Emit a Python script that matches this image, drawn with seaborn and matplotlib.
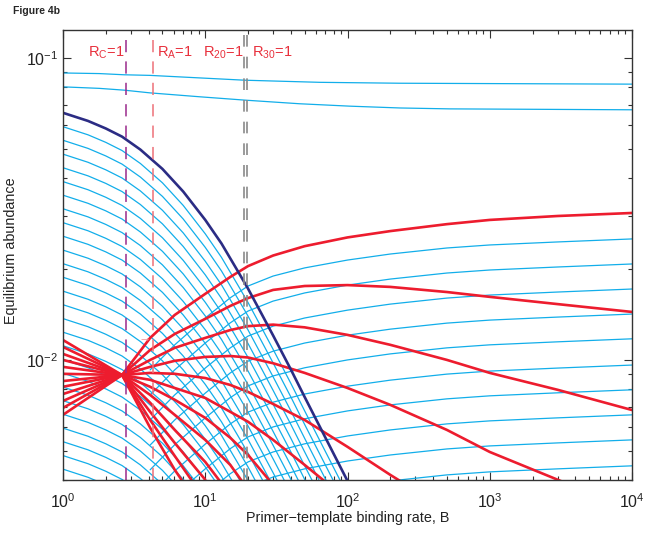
import numpy as np
import pandas as pd
import matplotlib
matplotlib.use("Agg")
import matplotlib.pyplot as plt
import seaborn as sns
from matplotlib.ticker import LogLocator, NullFormatter, LogFormatterSciNotation

# ---------------- data (abundances stored as log10 exponents) -------------
navy_B = [1, 1.5, 2, 2.6, 3.5, 5, 7, 10, 13, 17, 20, 25, 30, 40, 50, 70, 100, 130]
navy_log = [-1.181, -1.208, -1.233, -1.260, -1.303, -1.367, -1.442, -1.536, -1.614, -1.707,
            -1.764, -1.849, -1.919, -2.032, -2.123, -2.258, -2.401, -2.507]

# descending cyan family: level at B=1 (log10); shape follows the navy profile
desc_left_log = [-1.227, -1.272, -1.318, -1.363, -1.409, -1.454, -1.499, -1.545, -1.590, -1.636,
                 -1.681, -1.726, -1.772, -1.817, -1.863, -1.908, -1.953, -1.999, -2.044, -2.090,
                 -2.135, -2.180, -2.226, -2.271, -2.317, -2.362]

# two nearly flat cyan curves at the top
top1_B = [1, 1.8, 2.7, 4.1, 19, 64, 234, 10000]
top1_log = [-1.049, -1.051, -1.055, -1.057, -1.073, -1.080, -1.083, -1.086]
top2_B = [1, 1.8, 2.7, 4.1, 9.2, 19, 46, 104, 234, 526, 10000]
top2_log = [-1.095, -1.100, -1.106, -1.115, -1.128, -1.139, -1.151, -1.159, -1.165, -1.168, -1.171]

# ascending cyan family: level at B=1e4 (log10) and shared shape
asc_B = [4.1, 6.1, 10, 15, 20, 30, 50, 100, 200, 500, 1000, 3000, 10000]
asc_rel = [-0.434, -0.351, -0.262, -0.195, -0.156, -0.123, -0.096, -0.070, -0.050, -0.030, -0.020, -0.010, 0.0]
asc_right_log = [-1.599, -1.682, -1.765, -1.848, -1.930, -2.017, -2.099, -2.182, -2.265, -2.351]

# red curves (all meet near B = 2.6)
red_B = [1, 2.6, 4.1, 6.1, 10, 15, 20, 30, 50, 100, 200, 500, 1000, 3000, 10000]
red_log = [
    [-2.182, -2.050, -1.927, -1.851, -1.781, -1.725, -1.689, -1.654, -1.623, -1.594, -1.573, -1.550, -1.536, -1.523, -1.513],
    [-2.159, -2.050, -1.967, -1.914, -1.864, -1.821, -1.795, -1.768, -1.755, -1.752, -1.758, -1.775, -1.791, -1.815, -1.841],
    [-2.136, -2.050, -2.000, -1.960, -1.927, -1.901, -1.888, -1.883, -1.892, -1.917, -1.950, -2.000, -2.043, -2.099, -2.166],
    [-2.113, -2.050, -2.023, -2.003, -1.990, -1.987, -1.992, -2.011, -2.043, -2.093, -2.149, -2.232, -2.305, -2.397, -2.497],
    [-2.089, -2.050, -2.043, -2.046, -2.060, -2.083, -2.106, -2.146, -2.199, -2.288, -2.381, -2.497],
    [-2.070, -2.050, -2.066, -2.093, -2.126, -2.172, -2.205, -2.265, -2.348, -2.464],
    [-2.046, -2.050, -2.089, -2.132, -2.192, -2.258, -2.315, -2.414],
    [-2.023, -2.050, -2.116, -2.182, -2.265, -2.348, -2.430],
    [-2.000, -2.050, -2.142, -2.232, -2.338, -2.447],
    [-1.980, -2.050, -2.172, -2.275, -2.397],
    [-1.957, -2.050, -2.199, -2.318, -2.464],
    [-1.934, -2.050, -2.225, -2.364, -2.513],
]

threshold_B = {"C": 2.76, "A": 4.27, "20": 18.7, "30": 19.6}
labels = ["R$_\\mathregular{C}$=1", "R$_\\mathregular{A}$=1", "R$_\\mathregular{20}$=1", "R$_\\mathregular{30}$=1"]

# ---------------- build tables ----------------
def table(B, logy, name):
    return pd.DataFrame({"B": np.asarray(B, float)[:len(logy)],
                         "y": 10.0 ** np.asarray(logy, float), "curve": name})

navy_log = np.asarray(navy_log)
cyan_parts = []
for k, lv in enumerate(desc_left_log):
    cyan_parts.append(table(navy_B, lv + (navy_log - navy_log[0]), f"d{k}"))
for k, lv in enumerate(asc_right_log):
    cyan_parts.append(table(asc_B, lv + np.asarray(asc_rel), f"a{k}"))
cyan_parts.append(table(top1_B, top1_log, "t1"))
cyan_parts.append(table(top2_B, top2_log, "t2"))
cyan_df = pd.concat(cyan_parts, ignore_index=True)
red_df = pd.concat([table(red_B, r, f"r{i}") for i, r in enumerate(red_log)], ignore_index=True)
navy_df = table(navy_B, navy_log, "navy")

# ---------------- figure ----------------
sns.set_style("ticks")
plt.rcParams["font.family"] = ["Liberation Sans", "DejaVu Sans"]
plt.rcParams["mathtext.fontset"] = "custom"
plt.rcParams["mathtext.rm"] = "Liberation Sans"
plt.rcParams["mathtext.it"] = "Liberation Sans:italic"

fig = plt.figure(figsize=(6.48, 5.36), dpi=100)
ax = fig.add_axes([63 / 648, 56 / 536, 569 / 648, 450 / 536])
ax.set_xscale("log")
ax.set_yscale("log")

CYAN, RED, NAVY = "#12AEEA", "#ED1C2E", "#2B2C84"
sns.lineplot(data=cyan_df, x="B", y="y", units="curve", estimator=None, sort=False,
             color=CYAN, lw=0.9, ax=ax, legend=False)
sns.lineplot(data=red_df, x="B", y="y", units="curve", estimator=None, sort=False,
             color=RED, lw=1.9, ax=ax, legend=False)
sns.lineplot(data=navy_df, x="B", y="y", estimator=None, sort=False,
             color=NAVY, lw=1.9, ax=ax, legend=False)

ax.axvline(threshold_B["C"], color="#9A2A8C", lw=1.1, ls=(0, (8, 6)))
ax.axvline(threshold_B["A"], color="#EE7078", lw=1.1, ls=(0, (8, 6)))
ax.axvline(threshold_B["20"], color="#8A8A8A", lw=1.2, ls=(0, (7, 6)))
ax.axvline(threshold_B["30"], color="#8A8A8A", lw=1.2, ls=(0, (7, 6)))

ax.set_xlim(1, 1e4)
ax.set_ylim(0.004, 0.124)

for txt, xf in zip(labels, [0.044, 0.165, 0.246, 0.332]):
    ax.text(xf, 0.940, txt, transform=ax.transAxes, color="#E8303C", fontsize=10.5,
            ha="left", va="baseline")
ax.text(0.133, 0.311, "\u2192", transform=ax.transAxes, color="#F08088", fontsize=9,
        ha="left", va="center")

ax.xaxis.set_major_locator(LogLocator(base=10, numticks=10))
ax.xaxis.set_minor_locator(LogLocator(base=10, subs=np.arange(2, 10), numticks=20))
ax.yaxis.set_major_locator(LogLocator(base=10, numticks=10))
ax.yaxis.set_minor_locator(LogLocator(base=10, subs=np.arange(2, 10), numticks=20))
ax.xaxis.set_major_formatter(LogFormatterSciNotation())
ax.yaxis.set_major_formatter(LogFormatterSciNotation())
ax.xaxis.set_minor_formatter(NullFormatter())
ax.yaxis.set_minor_formatter(NullFormatter())
ax.tick_params(which="both", direction="in", top=True, right=True, colors="#333333",
               labelcolor="#222222", labelsize=11.5)
ax.tick_params(which="major", length=6, width=0.8)
ax.tick_params(which="minor", length=3, width=0.8)
ax.tick_params(axis="x", which="major", pad=9)
ax.tick_params(axis="y", which="major", pad=3.5)
for s in ax.spines.values():
    s.set_color("#333333")
    s.set_linewidth(1.0)

ax.set_xlabel("Primer\u2212template binding rate, B", fontsize=10.4, color="#222222")
ax.xaxis.set_label_coords(0.5, -0.068)
ax.set_ylabel("Equilibrium abundance", fontsize=10.4, color="#222222")
ax.yaxis.set_label_coords(-0.079, 0.51)

fig.text(13 / 648, 1 - 11 / 536, "Figure 4b", fontsize=7.5, fontweight="bold",
         ha="left", va="center")

fig.savefig("out.png", dpi=100)
